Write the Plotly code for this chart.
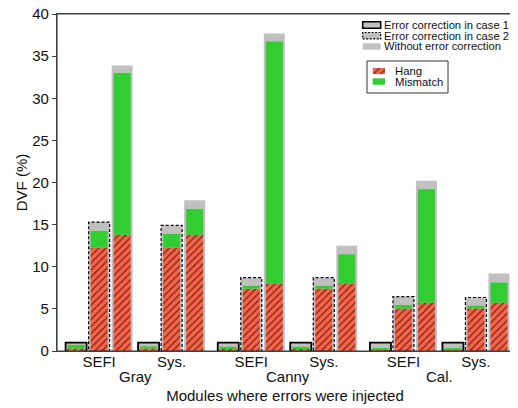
import plotly.graph_objects as go

# ---------------- data ----------------
modules = ["Gray", "Canny", "Cal."]
methods = ["SEFI", "Sys."]

case1_total = [1.0, 1.0, 1.0, 1.0, 1.0, 1.0]
case1_hang = [0.30, 0.30, 0.28, 0.28, 0.20, 0.20]
case1_mismatch = [0.42, 0.25, 0.22, 0.22, 0.10, 0.10]

case2_total = [15.3, 14.9, 8.7, 8.7, 6.45, 6.35]
case2_hang = [12.25, 12.25, 7.4, 7.4, 5.05, 5.05]
case2_mismatch = [2.0, 1.65, 0.33, 0.33, 0.40, 0.32]

noec_total = [33.9, 17.9, 37.7, 12.5, 20.2, 9.2]
noec_hang = [13.8, 13.8, 8.0, 8.0, 5.72, 5.72]
noec_mismatch = [19.2, 3.05, 28.75, 3.47, 13.48, 2.4]

legend1_labels = ["Error correction in case 1", "Error correction in case 2", "Without error correction"]
legend2_labels = ["Hang", "Mismatch"]

# ---------------- style ----------------
FONT = "Liberation Sans, Arial, sans-serif"
SILVER = "#C0C0C0"
RED = "#FF6347"
GREEN = "#32CD32"
AX = "#404040"
OUTER_W = 0.913
INNER_W = 0.74
MOD_STEP = 6.61
METH_STEP = 3.15

base = []
for m in range(len(modules)):
    for k in range(len(methods)):
        base.append(m * MOD_STEP + k * METH_STEP)
pos1 = [b for b in base]
pos2 = [b + 1 for b in base]
pos3 = [b + 2 for b in base]

hatch = dict(shape="/", fgcolor="black", size=5, solidity=0.3)

fig = go.Figure()

# outer gray bars
fig.add_trace(go.Bar(x=pos1, y=case1_total, width=OUTER_W, marker=dict(color=SILVER, line=dict(color="black", width=1.8)), showlegend=False))
fig.add_trace(go.Bar(x=pos2, y=case2_total, width=OUTER_W, marker=dict(color=SILVER, line=dict(width=0)), showlegend=False))
fig.add_trace(go.Bar(x=pos3, y=noec_total, width=OUTER_W, marker=dict(color=SILVER, line=dict(width=0)), showlegend=False))

# inner stacks
for pos, hang, mis in [(pos1, case1_hang, case1_mismatch), (pos2, case2_hang, case2_mismatch), (pos3, noec_hang, noec_mismatch)]:
    fig.add_trace(go.Bar(x=pos, y=hang, width=INNER_W, marker=dict(color=RED, pattern=hatch, line=dict(width=0)), showlegend=False))
    fig.add_trace(go.Bar(x=pos, y=mis, base=hang, width=INNER_W, marker=dict(color=GREEN, line=dict(width=0)), showlegend=False))

shapes = []
# dashed outlines for case 2
for p, t in zip(pos2, case2_total):
    shapes.append(dict(type="rect", xref="x", yref="y", x0=p - OUTER_W / 2, x1=p + OUTER_W / 2, y0=0, y1=t,
                       line=dict(color="black", width=1.2, dash="3px,2px"), fillcolor="rgba(0,0,0,0)", layer="above"))

# axes frame
shapes.append(dict(type="rect", xref="paper", yref="paper", x0=0, x1=1, y0=0, y1=1,
                   line=dict(color=AX, width=1.2), fillcolor="rgba(0,0,0,0)", layer="above"))

annotations = []
# module labels
for m, name in enumerate(modules):
    xc = (pos2[2 * m] + pos2[2 * m + 1]) / 2
    annotations.append(dict(x=xc, y=-0.077, xref="x", yref="paper", text=name, showarrow=False,
                            font=dict(family=FONT, size=15, color="#111"), xanchor="center", yanchor="middle"))

# ---------- legend 1 (manual) ----------
sw_x0, sw_x1 = 0.6704, 0.7099
rows1 = [0.9674, 0.9356, 0.9036]
hh = 0.0095
line_styles = [dict(color="black", width=1.5), dict(color="black", width=1.2, dash="2px,1.5px"), dict(width=0)]
for yc, lab, ls in zip(rows1, legend1_labels, line_styles):
    shapes.append(dict(type="rect", xref="paper", yref="paper", x0=sw_x0, x1=sw_x1, y0=yc - hh, y1=yc + hh,
                       fillcolor=SILVER, line=ls))
    annotations.append(dict(x=0.7135, y=yc, xref="paper", yref="paper", text=lab, showarrow=False,
                            font=dict(family=FONT, size=11.2, color="#111"), xanchor="left", yanchor="middle"))

# ---------- legend 2 (manual) ----------
shapes.append(dict(type="rect", xref="paper", yref="paper", x0=0.6798, x1=0.8575, y0=0.7656, y1=0.8605,
                   line=dict(color="#333", width=1), fillcolor="rgba(0,0,0,0)", layer="above"))
rows2 = [0.8309, 0.7997]
sw2_x0, sw2_x1 = 0.6923, 0.7193
# Mismatch swatch
shapes.append(dict(type="rect", xref="paper", yref="paper", x0=sw2_x0, x1=sw2_x1, y0=rows2[1] - hh, y1=rows2[1] + hh,
                   fillcolor=GREEN, line=dict(width=0), layer="above"))
for yc, lab in zip(rows2, legend2_labels):
    annotations.append(dict(x=0.737, y=yc, xref="paper", yref="paper", text=lab, showarrow=False,
                            font=dict(family=FONT, size=11.3, color="#111"), xanchor="left", yanchor="middle"))

# Hang swatch: tiny overlay axis so the hatch pattern can be shown
fig.add_trace(go.Bar(x=[0.5], y=[1], width=1, xaxis="x2", yaxis="y2",
                     marker=dict(color=RED, pattern=hatch, line=dict(width=0)), showlegend=False, hoverinfo="skip"))

fig.update_layout(
    width=510, height=400,
    margin=dict(l=49, r=5, t=6, b=57, autoexpand=False),
    paper_bgcolor="white", plot_bgcolor="white",
    barmode="overlay",
    shapes=shapes, annotations=annotations,
    font=dict(family=FONT, size=15, color="#111"),
    xaxis=dict(range=[-0.83, 18.98], tickvals=pos2, ticktext=methods * len(modules), ticks="", ticklen=0,
               ticklabelstandoff=-3,
               showline=True, mirror=True, linecolor=AX, linewidth=1.2, showgrid=False, zeroline=False,
               automargin=False,
               tickfont=dict(family=FONT, size=15, color="#111"),
               title=dict(text="Modules where errors were injected", standoff=21, font=dict(family=FONT, size=15, color="#111"))),
    yaxis=dict(range=[0, 40], dtick=5, ticks="outside", ticklen=4, tickcolor=AX, tickwidth=1,
               showline=True, mirror=True, linecolor=AX, linewidth=1.2, showgrid=False, zeroline=False,
               automargin=False, ticklabeloverflow="allow",
               tickfont=dict(family=FONT, size=15, color="#111"),
               title=dict(text="DVF (%)", standoff=0, font=dict(family=FONT, size=15, color="#111"))),
    xaxis2=dict(domain=[sw2_x0, sw2_x1], range=[0, 1], anchor="y2", visible=False, fixedrange=True),
    yaxis2=dict(domain=[rows2[0] - hh, rows2[0] + hh], range=[0, 1], anchor="x2", visible=False, fixedrange=True),
)

fig.write_html("out.html")
